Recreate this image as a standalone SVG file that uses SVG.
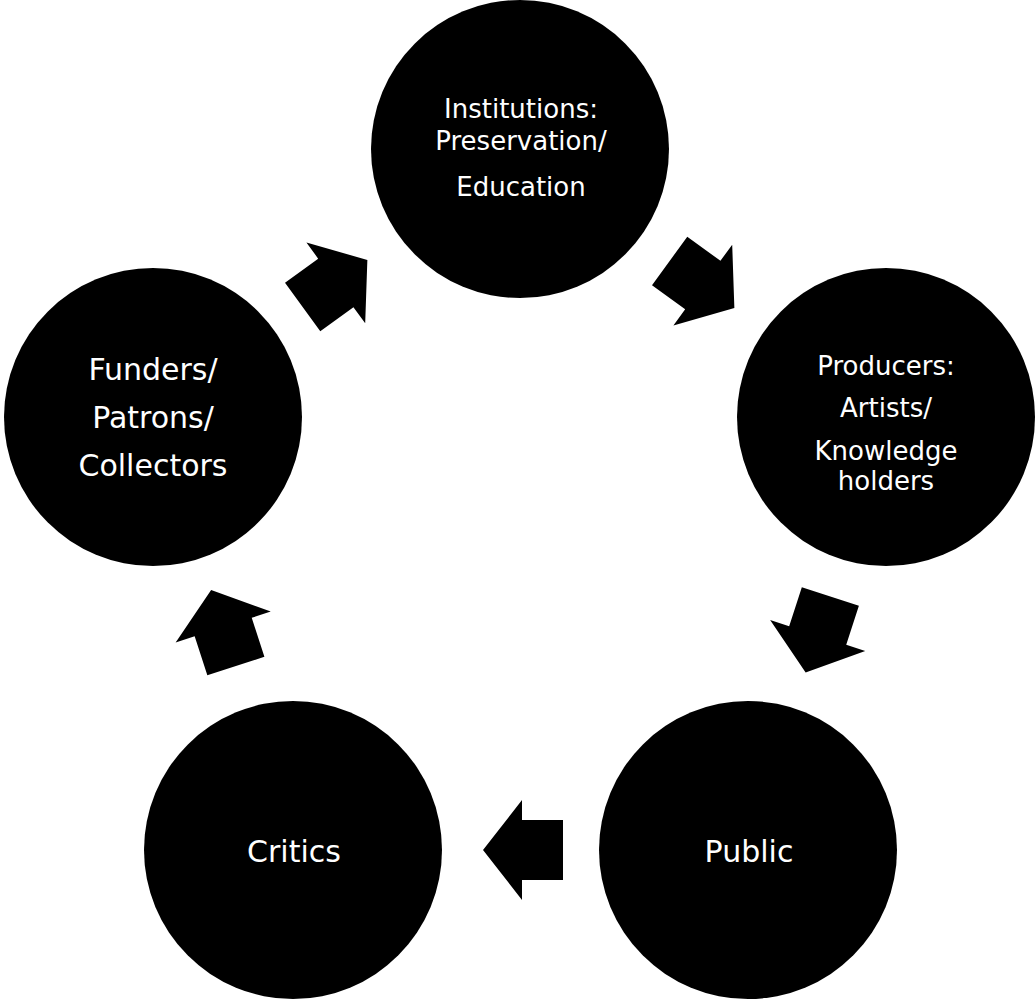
<svg xmlns="http://www.w3.org/2000/svg" xmlns:xlink="http://www.w3.org/1999/xlink" width="1035" height="999" viewBox="0 0 1035 999">
<style>
.node{fill:#000}
.lbl{fill:#fff;font-family:"DejaVu Sans","Liberation Sans",sans-serif;text-anchor:middle}
.arrow{fill:#000}
</style>
<defs>
<path id="arr" d="M-40,-30 L1,-30 L1,-50 L40,0 L1,50 L1,30 L-40,30 Z"/>
</defs>
<rect width="1035" height="999" fill="#fff"/>
<g id="connectors" class="arrow">
<use xlink:href="#arr" href="#arr" transform="translate(335,283.5) rotate(-36)"/>
<use xlink:href="#arr" href="#arr" transform="translate(702,284.5) rotate(36)"/>
<use xlink:href="#arr" href="#arr" transform="translate(818,634.5) rotate(108)"/>
<use xlink:href="#arr" href="#arr" transform="translate(523,850) rotate(180)"/>
<use xlink:href="#arr" href="#arr" transform="translate(223.5,628) rotate(-108)"/>
</g>
<g id="institutions">
<circle class="node" cx="520" cy="149" r="149"/>
<text class="lbl" font-size="26"><tspan x="521" y="118">Institutions:</tspan><tspan x="521" y="150">Preservation/</tspan><tspan x="521" y="196">Education</tspan></text>
</g>
<g id="producers">
<circle class="node" cx="886" cy="417" r="149"/>
<text class="lbl" font-size="26"><tspan x="886" y="375">Producers:</tspan><tspan x="886" y="417">Artists/</tspan><tspan x="886" y="460">Knowledge</tspan><tspan x="886" y="490">holders</tspan></text>
</g>
<g id="public">
<circle class="node" cx="748" cy="850" r="149"/>
<text class="lbl" font-size="30" x="749" y="862">Public</text>
</g>
<g id="critics">
<circle class="node" cx="293" cy="850" r="149"/>
<text class="lbl" font-size="30" x="294" y="862">Critics</text>
</g>
<g id="funders">
<circle class="node" cx="153" cy="417" r="149"/>
<text class="lbl" font-size="30"><tspan x="153" y="380">Funders/</tspan><tspan x="153" y="428">Patrons/</tspan><tspan x="153" y="476">Collectors</tspan></text>
</g>
</svg>
